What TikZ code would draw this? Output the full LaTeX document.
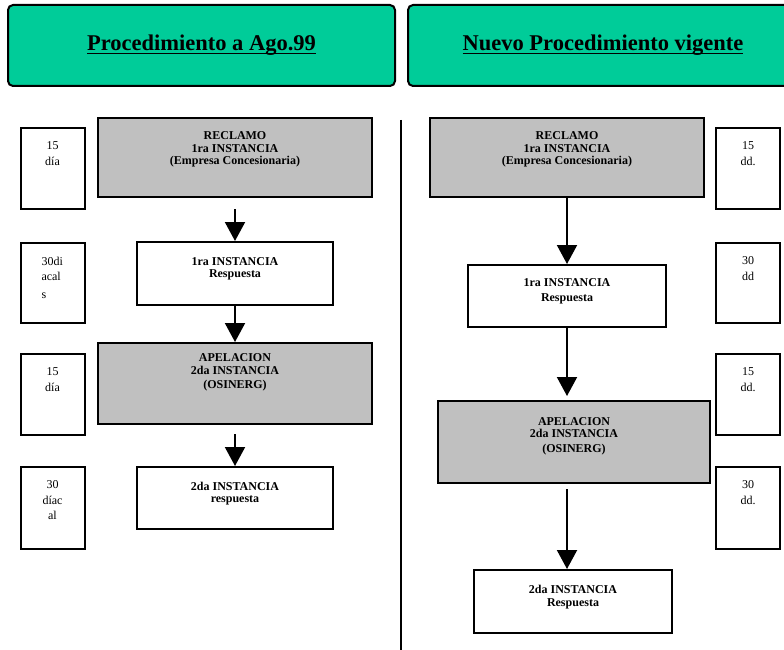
\documentclass[tikz,border=0pt]{standalone}
\usepackage{fontspec}
\setmainfont{Liberation Serif}
\usetikzlibrary{arrows.meta}

\definecolor{verdeCab}{RGB}{0,204,153}
\definecolor{grisEtapa}{RGB}{192,192,192}

% texto de las cajas
\newcommand{\caja}[4][9pt]{\parbox[c][#3][c]{#2}{\centering #4\par\vspace{#1}}}
\newcommand{\dias}[2]{\parbox[c][#1][t]{64pt}{\vspace*{14pt}\centering #2}}
\newcommand{\subrayado}[1]{\leavevmode\setbox0\hbox{#1}\rlap{\rule[-3.5pt]{\wd0}{1.6pt}}\box0}

\begin{document}
\begin{tikzpicture}[x=1pt, y=-1pt,
	cabecera/.style={draw, line width=2pt, fill=verdeCab, rounded corners=5pt, inner sep=0pt,
		font=\fontsize{22.5}{26}\selectfont\bfseries},
	etapa/.style={draw, line width=2pt, fill=grisEtapa, inner sep=0pt,
		font=\fontsize{12}{12.5}\selectfont\bfseries},
	respuesta/.style={draw, line width=2pt, fill=white, inner sep=0pt,
		font=\fontsize{12}{12.5}\selectfont\bfseries},
	plazo/.style={draw, line width=2pt, fill=white, inner sep=0pt,
		font=\fontsize{12}{15.5}\selectfont},
	flecha/.style={line width=2pt, -{Triangle[width=20pt, length=19pt]}}]
	 \useasboundingbox (0, 0) rectangle (784, 650);
	 
	 \node[cabecera] (cabI) at (201.5, 45.5) {\caja[0pt]{387pt}{81pt}{\subrayado{Procedimiento a Ago.99}}};
	 \node[cabecera] (cabD) at (603, 45.5) {\caja[0pt]{390pt}{81pt}{\subrayado{Nuevo Procedimiento vigente}}};
	 
	 \draw[line width=1.5pt] (401, 120) coordinate (divA) -- (401, 650) coordinate (divB);
	 
	 % procedimiento a Ago.99
	 \node[etapa] (recI) at (235, 157.5) {\caja[16pt]{274pt}{79pt}{RECLAMO\\1ra INSTANCIA\\(Empresa Concesionaria)}};
	 \node[respuesta] (resI) at (235, 273.5) {\caja{196pt}{63pt}{1ra INSTANCIA\\Respuesta}};
	 \node[etapa] (apeI) at (235, 383.5) {\caja[22pt]{274pt}{81pt}{APELACION\\2da INSTANCIA\\[2pt](OSINERG)}};
	 \node[respuesta] (res2I) at (235, 498) {\caja{196pt}{62pt}{2da INSTANCIA\\respuesta}};
	 
	 \node[plazo] (plazoI1) at (52.5, 168.5) {\dias{81pt}{15\\día}};
	 \node[plazo] (plazoI2) at (52.5, 283) {\dias{80pt}{\raggedright\leftskip=21pt 30di\\acal\\[2pt]s}};
	 \node[plazo] (plazoI3) at (52.5, 394.5) {\dias{81pt}{15\\día}};
	 \node[plazo] (plazoI4) at (52.5, 508) {\dias{82pt}{30\\díac\\al}};
	 
	 \draw[flecha, shorten <=11pt] (recI.south) -- (resI.north);
	 \draw[flecha] (resI.south) -- (apeI.north);
	 \draw[flecha, shorten <=9pt] (apeI.south) -- (res2I.north);
	 
	 % nuevo procedimiento
	 \node[etapa] (recD) at (567, 157.5) {\caja[16pt]{274pt}{79pt}{RECLAMO\\1ra INSTANCIA\\(Empresa Concesionaria)}};
	 \node[respuesta] (resD) at (567, 296) {\caja{198pt}{62pt}{1ra INSTANCIA\\[2pt]Respuesta}};
	 \node[etapa] (apeD) at (574, 442) {\caja[12pt]{272pt}{82pt}{APELACION\\2da INSTANCIA\\[2pt](OSINERG)}};
	 \node[respuesta] (res2D) at (573, 601.5) {\caja{198pt}{63pt}{2da INSTANCIA\\Respuesta}};
	 
	 \node[plazo] (plazoD1) at (748, 168.5) {\dias{81pt}{15\\dd.}};
	 \node[plazo] (plazoD2) at (748, 283) {\dias{80pt}{30\\dd}};
	 \node[plazo] (plazoD3) at (748, 394.5) {\dias{81pt}{15\\dd.}};
	 \node[plazo] (plazoD4) at (748, 508) {\dias{82pt}{30\\dd.}};
	 
	 \draw[flecha] (recD.south) -- (resD.north);
	 \draw[flecha, shorten >=4pt] (resD.south) -- (resD.south |- apeD.north);
	 \draw[flecha, shorten <=5pt] (resD.south |- apeD.south) -- (resD.south |- res2D.north);
\end{tikzpicture}
\end{document}
